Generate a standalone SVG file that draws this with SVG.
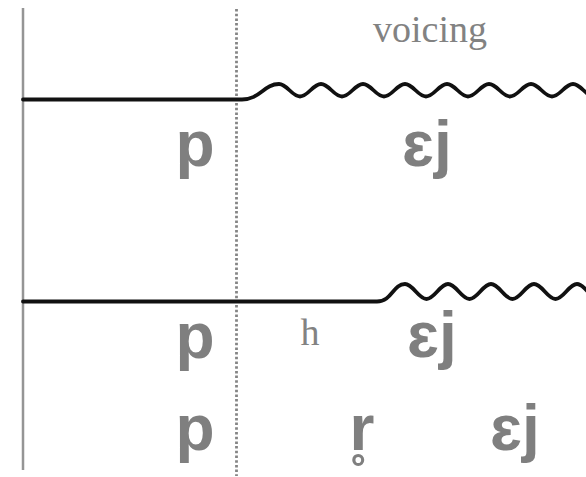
<svg xmlns="http://www.w3.org/2000/svg" width="586" height="477" viewBox="0 0 586 477">
  <style>
    .axis { stroke: #959595; stroke-width: 2.5; fill: none; }
    .dots { stroke: #858585; stroke-width: 2.8; stroke-dasharray: 2.5 2.2; fill: none; }
    .wave { stroke: #111; stroke-width: 3.8; fill: none; stroke-linecap: round; stroke-linejoin: round; }
    .seg { font-family: "Liberation Sans", "DejaVu Sans", sans-serif; font-weight: bold; font-size: 64px; fill: #7f7f7f; text-anchor: middle; }
    .note { font-family: "Liberation Serif", "DejaVu Serif", serif; font-size: 38px; fill: #828282; text-anchor: middle; }
  </style>
  <rect width="586" height="477" fill="#ffffff"/>
  <g id="guides">
    <line class="axis" x1="23" y1="8" x2="23" y2="470"/>
    <line class="dots" x1="236.5" y1="9" x2="236.5" y2="476"/>
  </g>
  <g id="connectors">
    <path id="wave-top" class="wave" d="M23 99.5 L242 99.5 C260 99.5 264 84 279 84 C287 84 292 96.5 300 96.5 C308 96.5 313 84 321 84 C329 84 334 96.5 342 96.5 C350 96.5 355 84 363 84 C371 84 376 96.5 384 96.5 C392 96.5 397 84 405 84 C413 84 418 96.5 426 96.5 C434 96.5 439 84 447 84 C455 84 460 96.5 468 96.5 C476 96.5 481 84 489 84 C497 84 502 96.5 510 96.5 C518 96.5 523 84 531 84 C539 84 544 96.5 552 96.5 C560 96.5 565 84 573 84 C581 84 586 96.5 594 96.5"/>
    <path id="wave-bottom" class="wave" d="M23 301.5 L377 301.5 C392 301.5 393 284 405 284 C413 284 418.5 299 426.5 299 C434.5 299 440 284 448 284 C456 284 461.5 299 469.5 299 C477.5 299 483 284 491 284 C499 284 504.5 299 512.5 299 C520.5 299 526 284 534 284 C542 284 547.5 299 555.5 299 C563.5 299 569 284 577 284 C585 284 590.5 299 598.5 299"/>
  </g>
  <g id="label-voicing"><text class="note" x="430" y="42">voicing</text></g>
  <g id="row1-p"><text class="seg" x="195" y="166">p</text></g>
  <g id="row1-ej"><text class="seg" x="427" y="166">ɛj</text></g>
  <g id="row2-p"><text class="seg" x="195" y="358">p</text></g>
  <g id="row2-h"><text class="note" x="310" y="345">h</text></g>
  <g id="row2-ej"><text class="seg" x="432" y="357">ɛj</text></g>
  <g id="row3-p"><text class="seg" x="195" y="450">p</text></g>
  <g id="row3-r"><text class="seg" x="362" y="450">r̥</text></g>
  <g id="row3-ej"><text class="seg" x="515" y="450">ɛj</text></g>
</svg>
